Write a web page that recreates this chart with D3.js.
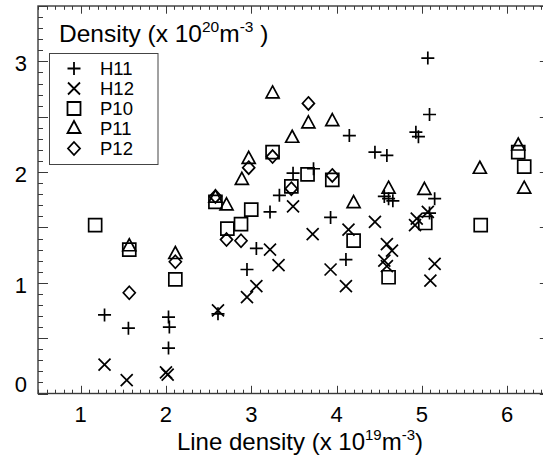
<!DOCTYPE html>
<html><head><meta charset="utf-8">
<script src="https://cdn.jsdelivr.net/npm/d3@7"></script>
<style>
html,body{margin:0;padding:0;background:#fff;}
svg{display:block;font-family:"Liberation Sans",Arial,Helvetica,sans-serif;}
</style></head>
<body><svg id="chart" width="543" height="459"></svg>
<script>
// ---- data ----
const H11 = [[1.28,0.71],[1.56,0.59],[2.03,0.69],[2.04,0.60],[2.03,0.41],[2.61,0.72],[2.95,1.12],[3.06,1.31],[3.22,1.64],[3.33,1.79],[3.49,1.99],[3.73,2.03],[3.93,1.59],[4.11,1.21],[4.15,2.33],[4.45,2.18],[4.59,2.15],[4.56,1.78],[4.61,1.76],[4.66,1.74],[4.93,2.36],[4.96,2.32],[5.07,3.03],[5.09,2.52],[5.15,1.76],[5.09,1.63]];
const H12 = [[1.28,0.26],[1.54,0.12],[2.00,0.19],[2.02,0.17],[2.61,0.75],[2.95,0.87],[3.06,0.97],[3.22,1.30],[3.32,1.16],[3.49,1.69],[3.72,1.44],[3.93,1.12],[4.11,0.97],[4.14,1.48],[4.45,1.55],[4.59,1.35],[4.65,1.29],[4.56,1.20],[4.59,1.15],[4.94,1.58],[4.92,1.52],[5.07,1.64],[5.15,1.17],[5.10,1.02]];
const P10 = [[1.17,1.52],[1.57,1.30],[2.11,1.03],[2.58,1.73],[2.72,1.49],[2.88,1.53],[3.00,1.66],[3.25,2.18],[3.47,1.87],[3.66,1.98],[3.95,1.93],[4.20,1.38],[4.61,1.05],[5.04,1.54],[5.69,1.52],[6.13,2.18],[6.20,2.05]];
const P11 = [[1.57,1.33],[2.11,1.26],[2.58,1.77],[2.71,1.70],[2.89,1.93],[2.97,2.12],[3.25,2.71],[3.48,2.31],[3.67,2.44],[3.95,2.46],[4.20,1.72],[4.61,1.85],[5.03,1.84],[5.68,2.03],[6.13,2.24],[6.20,1.85]];
const P12 = [[1.57,0.91],[2.11,1.19],[2.58,1.78],[2.71,1.39],[2.88,1.38],[2.97,2.04],[3.25,2.14],[3.47,1.85],[3.67,2.62],[3.95,1.97]];
const seriesNames = ["H11","H12","P10","P11","P12"];
const xTicks = [1,2,3,4,5,6];
const yTicks = [0,1,2,3];
const xDomain = [0.5, 6.5];
const yDomain = [0, 3.5];

// ---- layout ----
const svg = d3.select("#chart");
const L = 38, R = 549.8, T = 6, B = 393.5;
const x = d3.scaleLinear().domain(xDomain).range([L, R]);
const y = d3.scaleLinear().domain(yDomain).range([B, T]);
const axisColor = "#3a3a3a";

// ticks
const xMinor = d3.range(5, 66).map(v => v/10);
const yMinor = d3.range(0, 36).map(v => v/10);
const xMajor = xMinor.filter(v => Math.abs(v - Math.round(v)) < 1e-6);
const yMajor = yMinor.filter(v => Math.abs(v*2 - Math.round(v*2)) < 1e-6);

const g = svg.append("g");
function xTickLen(v){ return xMajor.some(m=>Math.abs(m-v)<1e-6) ? 7.7 : 3.8; }
function yTickLen(v){ return yMajor.some(m=>Math.abs(m-v)<1e-6) ? 10 : 5; }
xMinor.forEach(v => {
  const px = Math.round(x(v)) + 0.5, len = xTickLen(v);
  g.append("line").attr("x1",px).attr("x2",px).attr("y1",B).attr("y2",B-len).attr("stroke",axisColor).attr("stroke-width",1);
  g.append("line").attr("x1",px).attr("x2",px).attr("y1",T).attr("y2",T+len).attr("stroke",axisColor).attr("stroke-width",1);
});
yMinor.forEach(v => {
  const py = Math.round(y(v)) + 0.5, len = yTickLen(v);
  g.append("line").attr("x1",L).attr("x2",L+len).attr("y1",py).attr("y2",py).attr("stroke",axisColor).attr("stroke-width",1);
  g.append("line").attr("x1",R).attr("x2",R-len).attr("y1",py).attr("y2",py).attr("stroke",axisColor).attr("stroke-width",1);
});
g.append("rect").attr("x",L).attr("y",T).attr("width",R-L).attr("height",B-T)
  .attr("fill","none").attr("stroke",axisColor).attr("stroke-width",1.4);

// tick labels
const fontTick = 22;
xTicks.forEach(v => {
  g.append("text").attr("x", x(v)).attr("y", 422).attr("text-anchor","middle")
    .attr("font-size", fontTick).text(v);
});
yTicks.forEach(v => {
  const cy = Math.min(y(v) + 2, B - 9);
  g.append("text").attr("x", 27).attr("y", cy).attr("dy","0.36em").attr("text-anchor","end")
    .attr("font-size", fontTick).text(v);
});

// axis title
const xt = svg.append("text").attr("x", 300).attr("y", 450).attr("text-anchor","middle").attr("font-size", 24);
xt.append("tspan").text("Line density (x 10");
xt.append("tspan").attr("dy",-10).attr("font-size",15).text("19");
xt.append("tspan").attr("dy",10).text("m");
xt.append("tspan").attr("dy",-10).attr("font-size",15).text("-3");
xt.append("tspan").attr("dy",10).text(")");

// inner title
const tt = svg.append("text").attr("x", 59).attr("y", 42).attr("font-size", 24.5);
tt.append("tspan").text("Density (x 10");
tt.append("tspan").attr("dy",-10).attr("font-size",15.5).text("20");
tt.append("tspan").attr("dy",10).text("m");
tt.append("tspan").attr("dy",-10).attr("font-size",15.5).text("-3");
tt.append("tspan").attr("dy",10).text(" )");

// symbols
const sym = {
  H11: "M-6.5,0H6.5M0,-6.5V6.5",
  H12: "M-6,-6L6,6M-6,6L6,-6",
  P10: "M-6.5,-6.5H6.5V6.5H-6.5Z",
  P11: "M0,-7.5L6.5,4.5L-6.5,4.5Z",
  P12: "M0,-6.5L6,0L0,6.5L-6,0Z"
};
const data = {H11, H12, P10, P11, P12};
const pts = svg.append("g");
seriesNames.forEach(n => {
  pts.selectAll("path."+n).data(data[n]).enter().append("path")
    .attr("class", n)
    .attr("d", sym[n])
    .attr("transform", d => `translate(${x(d[0])},${y(d[1])})`)
    .attr("fill","none").attr("stroke","#000").attr("stroke-width",1.7);
});

// legend
const lg = svg.append("g");
lg.append("rect").attr("x",49.5).attr("y",53.5).attr("width",108.5).attr("height",111)
  .attr("fill","#fff").attr("stroke","#444").attr("stroke-width",1);
seriesNames.forEach((n,i) => {
  const ry = 68.5 + i*20;
  lg.append("path").attr("d", sym[n]).attr("transform",`translate(74,${ry})`)
    .attr("fill","none").attr("stroke","#000").attr("stroke-width",1.8);
  lg.append("text").attr("x",100).attr("y",ry).attr("dy","0.36em").attr("font-size",18.5).text(n);
});
</script></body></html>
